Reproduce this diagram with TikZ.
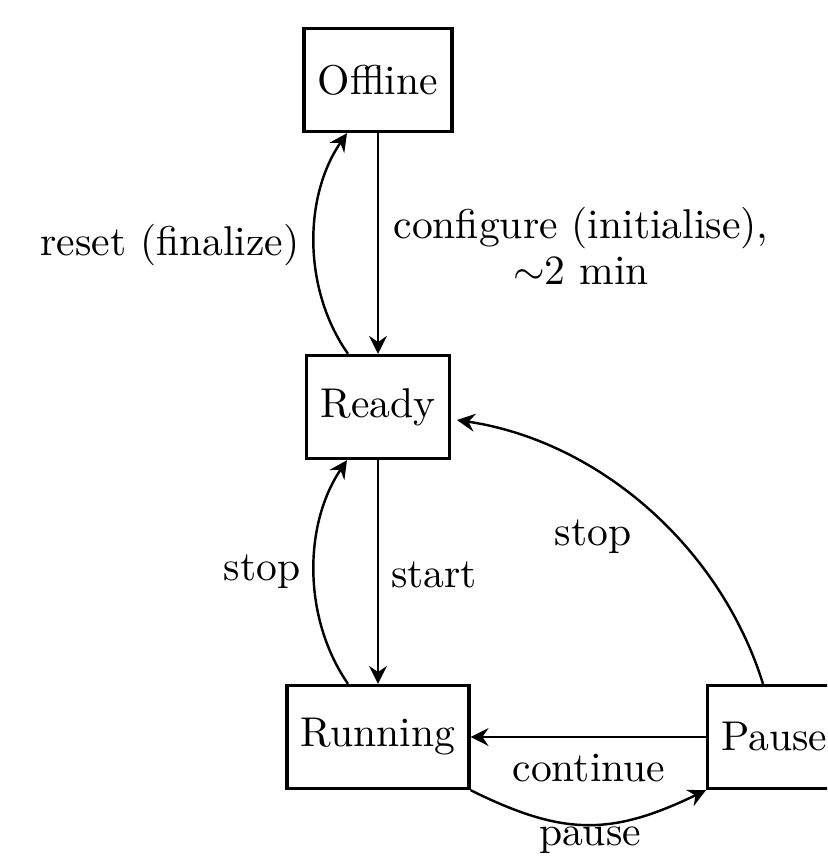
\documentclass[tikz,border=0pt]{standalone}
\usetikzlibrary{arrows.meta,calc}
\begin{document}
\begin{tikzpicture}[x=0.2463pt,y=-0.2463pt,
  every node/.style={font=\fontsize{10.25}{12.3}\selectfont},
  statebox/.style={draw,thick,rectangle,inner xsep=3.4pt,minimum height=25.4pt},
  trans/.style={semithick,-{Stealth[length=4.4pt,width=4.4pt,inset=1.5pt]}},
  lbl/.style={inner sep=0pt}]
\useasboundingbox (0,0) rectangle (827,859);
\clip (0,0) rectangle (827,859);
\node[statebox] (off) at (378,80) {Offline};
\node[statebox] (rdy) at (378,407) {Ready};
\node[statebox] (run) at (378,737) {Running};
\node[statebox,anchor=west] (pau) at (706,737) {Pause};
% edges
\draw[trans] (off) -- (rdy);
\draw[trans] ($(rdy.north)+(-30,0)$) .. controls (303,290) and (303,197) .. ($(off.south)+(-31,0)$);
\draw[trans] (rdy) -- (run);
\draw[trans] ($(run.north)+(-30,0)$) .. controls (303,619) and (303,525) .. ($(rdy.south)+(-31,0)$);
\draw[trans] (pau.west) -- (run.east);
\draw[trans] (run.south east) .. controls (563,836) and (611,836) .. (pau.south west);
\draw[trans] ($(pau.north west)+(57,0)$) .. controls (720,546) and (598,441) .. ($(rdy.east)+(6,13)$);
% labels
\node[lbl] (lreset) at (170,245) {reset (finalize)};
\node[lbl,align=center] (lconf) at (581,246) {configure (initialise),\\[-1pt]$\sim$2 min};
\node[lbl] (lstop1) at (262,572) {stop};
\node[lbl] (lstart) at (434,575) {start};
\node[lbl] (lstop2) at (593,537) {stop};
\node[lbl] (lcont) at (589,768) {continue};
\node[lbl] (lpause) at (590,840) {pause};
\end{tikzpicture}
\end{document}
